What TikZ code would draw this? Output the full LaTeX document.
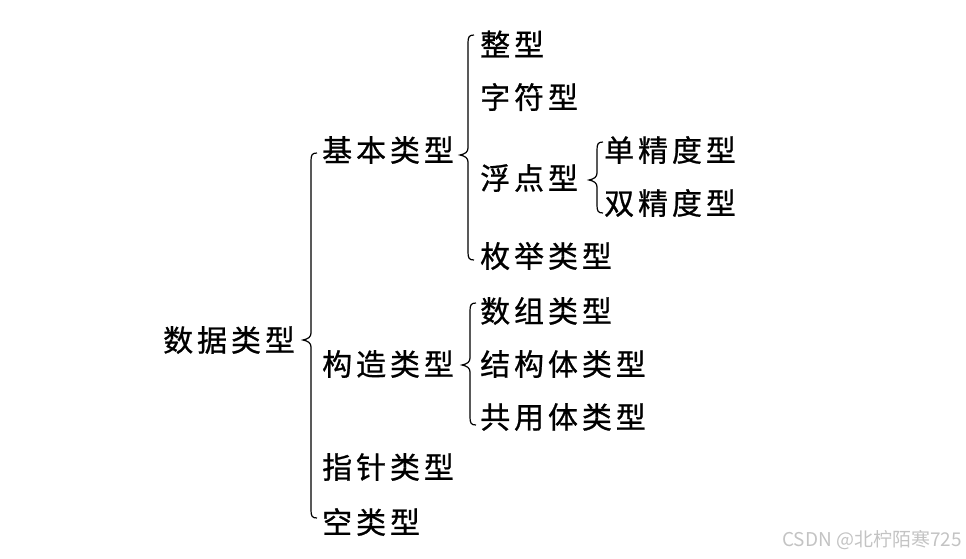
\documentclass[tikz,border=0pt]{standalone}
\usepackage{fontspec}
\newfontfamily\cjk{Noto Sans CJK SC}[LetterSpace=13,FakeBold=0.8]
\newfontfamily\wmfont{Noto Sans CJK SC}
\definecolor{wmgray}{RGB}{195,195,195}
\newcommand\mybrace[4]{% #1 line x, #2 top y, #3 tip y, #4 bottom y
  \draw[braceline] (#1+6,#2) .. controls (#1+1,#2) and (#1,#2+2) .. (#1,#2+8)
    -- (#1,#3-7) .. controls (#1,#3-3) and (#1-3,#3-1) .. (#1-8,#3)
    .. controls (#1-3,#3+1) and (#1,#3+3) .. (#1,#3+7)
    -- (#1,#4-8) .. controls (#1,#4-2) and (#1+1,#4) .. (#1+6,#4);}
\begin{document}
\begin{tikzpicture}[x=1pt,y=-1pt,
  lbl/.style={anchor=west, inner sep=0pt, font=\cjk\fontsize{30}{30}\selectfont},
  braceline/.style={line width=1.2pt, black}]
\useasboundingbox (0,0) rectangle (966,558);
\node[lbl] (root) at (163,340) {数据类型};
\node[lbl] (b1) at (322,150) {基本类型};
\node[lbl] (b2) at (322,364) {构造类型};
\node[lbl] (b3) at (322,467) {指针类型};
\node[lbl] (b4) at (322,522) {空类型};
\node[lbl] (c1) at (480,44) {整型};
\node[lbl] (c2) at (480,97) {字符型};
\node[lbl] (c3) at (480,178) {浮点型};
\node[lbl] (c4) at (480,256) {枚举类型};
\node[lbl] (d1) at (604,150) {单精度型};
\node[lbl] (d2) at (604,203) {双精度型};
\node[lbl] (e1) at (480,311) {数组类型};
\node[lbl] (e2) at (480,364) {结构体类型};
\node[lbl] (e3) at (480,417) {共用体类型};
\mybrace{311}{153}{340}{518}
\mybrace{468}{35}{155}{260}
\mybrace{597}{142}{180}{213}
\mybrace{470}{303}{365}{425}
\node[anchor=east, inner sep=0pt, text=wmgray, font=\wmfont\fontsize{19}{19}\selectfont] (wm) at (962,540) {CSDN @北柠陌寒725};
\end{tikzpicture}
\end{document}
